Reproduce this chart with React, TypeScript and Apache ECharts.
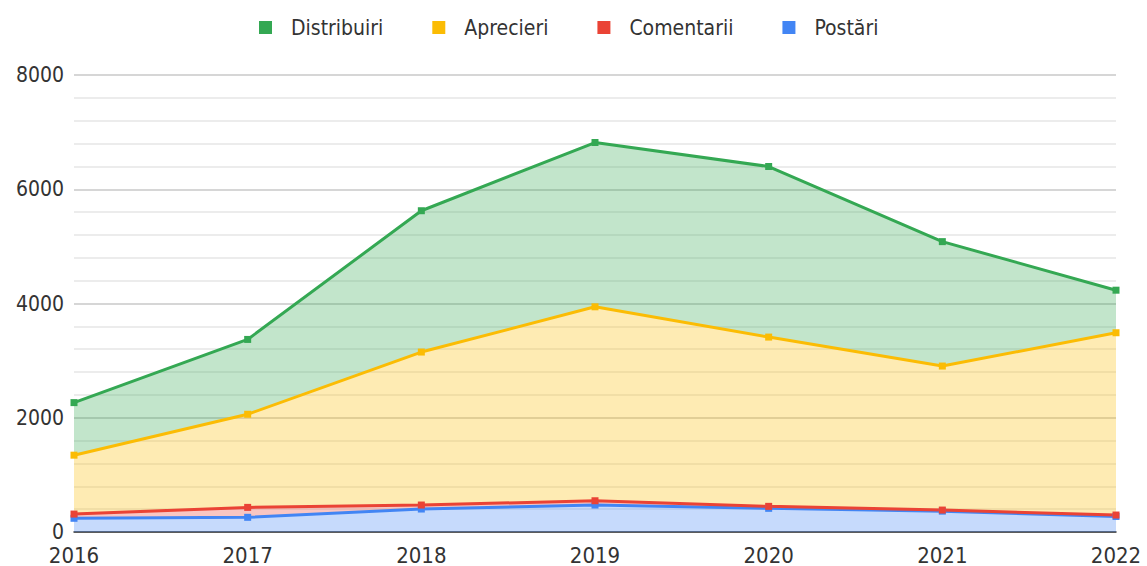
import React, { useEffect, useRef } from "react";
import * as echarts from "echarts";

const years = ["2016", "2017", "2018", "2019", "2020", "2021", "2022"];
const postari = [240, 257, 402, 472, 414, 365, 272];
const comentarii = [74, 174, 70, 75, 35, 19, 25];
const aprecieri = [1031, 1630, 2678, 3395, 2963, 2521, 3191];
const distribuiri = [920, 1310, 2474, 2876, 2986, 2178, 745];
const legendOrder = ["Distribuiri", "Aprecieri", "Comentarii", "Postări"];

const FONT = "'DejaVu Sans Condensed', 'Liberation Sans Narrow', 'DejaVu Sans', sans-serif";

export default function App() {
  const ref = useRef<HTMLDivElement>(null);
  useEffect(() => {
    const chart = echarts.init(ref.current!, undefined, { renderer: "svg" });
    const mk = (name: string, data: number[], color: string) => ({
      name,
      type: "line",
      stack: "total",
      data,
      symbol: "rect",
      symbolSize: 7,
      lineStyle: { width: 3, color },
      itemStyle: { color },
      areaStyle: { color, opacity: 0.3 },
    });
    chart.setOption({
      animation: false,
      textStyle: { fontFamily: FONT },
      legend: {
        data: legendOrder,
        top: 12,
        left: 254,
        icon: "rect",
        itemWidth: 13,
        itemHeight: 13,
        itemGap: 49,
        textStyle: { fontSize: 21, color: "#333", fontFamily: FONT, padding: [0, 0, 0, 14] },
      },
      grid: { left: 74, right: 31, top: 75, bottom: 33 },
      xAxis: {
        type: "category",
        data: years,
        boundaryGap: false,
        axisLine: { lineStyle: { color: "#333", width: 1.5 } },
        axisTick: { show: false },
        axisLabel: { fontSize: 22, color: "#333", margin: 14, lineHeight: 18, fontFamily: FONT },
      },
      yAxis: {
        type: "value",
        min: 0,
        max: 8000,
        interval: 2000,
        axisLabel: {
          fontSize: 21,
          color: "#333",
          margin: 10,
          lineHeight: 16,
          padding: [0, 0, 4, 0],
          fontFamily: FONT,
          formatter: (v: number) => String(v),
        },
        splitLine: { lineStyle: { color: "#c8c8c8", width: 1.5 } },
        minorTick: { show: false, splitNumber: 5 },
        minorSplitLine: { show: true, lineStyle: { color: "#e6e6e6", width: 1.5 } },
      },
      series: [
        mk("Postări", postari, "#4285f4"),
        mk("Comentarii", comentarii, "#ea4335"),
        mk("Aprecieri", aprecieri, "#fbbc04"),
        mk("Distribuiri", distribuiri, "#34a853"),
      ],
    });
    return () => chart.dispose();
  }, []);
  return <div ref={ref} style={{ width: 1147, height: 566, position: "absolute", left: 0, top: 0 }} />;
}
